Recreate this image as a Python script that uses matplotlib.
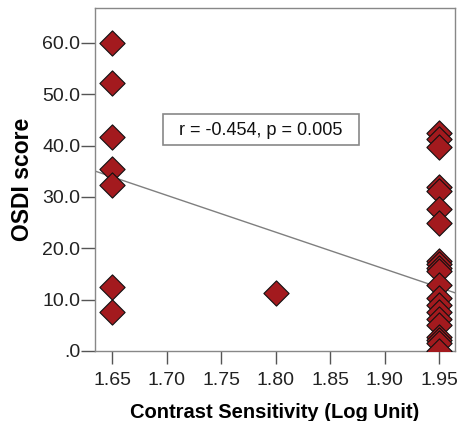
import matplotlib
matplotlib.use("Agg")
import matplotlib.pyplot as plt
from matplotlib.patches import Rectangle
import numpy as np

plt.rcParams['font.family'] = ['Liberation Sans', 'DejaVu Sans']

x_165 = [1.65] * 7
y_165 = [60.0, 52.1, 41.6, 35.5, 32.4, 12.5, 7.5]
x_180 = [1.80]
y_180 = [11.3]
y_195 = [42.5, 41.2, 39.8, 31.9, 31.2, 27.6, 25.0, 17.6, 16.9, 16.2, 15.5,
         12.9, 10.4, 8.9, 7.5, 6.3, 5.0, 2.8, 2.1, 1.5, 0.0]
x_195 = [1.95] * len(y_195)

# fit line as drawn in the reference (slope, intercept)
fit_slope = -71.7
fit_intercept = 152.2

x_ticks = [1.65, 1.70, 1.75, 1.80, 1.85, 1.90, 1.95]
x_tick_labels = ["1.65", "1.70", "1.75", "1.80", "1.85", "1.90", "1.95"]
y_ticks = [0, 10, 20, 30, 40, 50, 60]
y_tick_labels = [".0", "10.0", "20.0", "30.0", "40.0", "50.0", "60.0"]
annotation = "r = -0.454, p = 0.005"

xs = np.array(x_165 + x_180 + x_195)
ys = np.array(y_165 + y_180 + y_195)

fig = plt.figure(figsize=(4.57, 4.21), dpi=100)
ax = fig.add_axes([0.2079, 0.1663, 0.9956 - 0.2079, 0.981 - 0.1663])

xmin, xmax = 1.634, 1.9647
ax.set_xlim(xmin, xmax)
ax.set_ylim(0, 66.8)

lx = np.array([xmin, xmax])
ax.plot(lx, fit_slope * lx + fit_intercept, color='#7f7f7f', lw=1.0, zorder=2)

ax.scatter(xs, ys, marker='D', s=165, facecolor='#A31A1E', edgecolor='#111111',
           linewidth=0.8, zorder=3)

ax.set_xticks(x_ticks)
ax.set_xticklabels(x_tick_labels)
ax.set_yticks(y_ticks)
ax.set_yticklabels(y_tick_labels)
ax.tick_params(axis='both', direction='out', width=1, color='#555555',
               labelsize=14, labelcolor='#222222')
ax.tick_params(axis='y', length=10, pad=0.5)
ax.tick_params(axis='x', length=9, pad=6)
for s in ax.spines.values():
    s.set_color('#888888')
    s.set_linewidth(1.0)

ax.set_xlabel("Contrast Sensitivity (Log Unit)", fontsize=14.5, fontweight='bold', labelpad=10)
ax.set_ylabel("OSDI score", fontsize=16.5, fontweight='bold', labelpad=6)

ax.add_patch(Rectangle((1.6966, 40.1), 1.8769 - 1.6966, 46.1 - 40.1, facecolor='white',
                       edgecolor='#888888', linewidth=1.2, zorder=4))
ax.text(1.7858, 43.0, annotation, fontsize=13.1, ha='center', va='center',
        color='#111111', zorder=5)

fig.savefig("out.png", dpi=100)
